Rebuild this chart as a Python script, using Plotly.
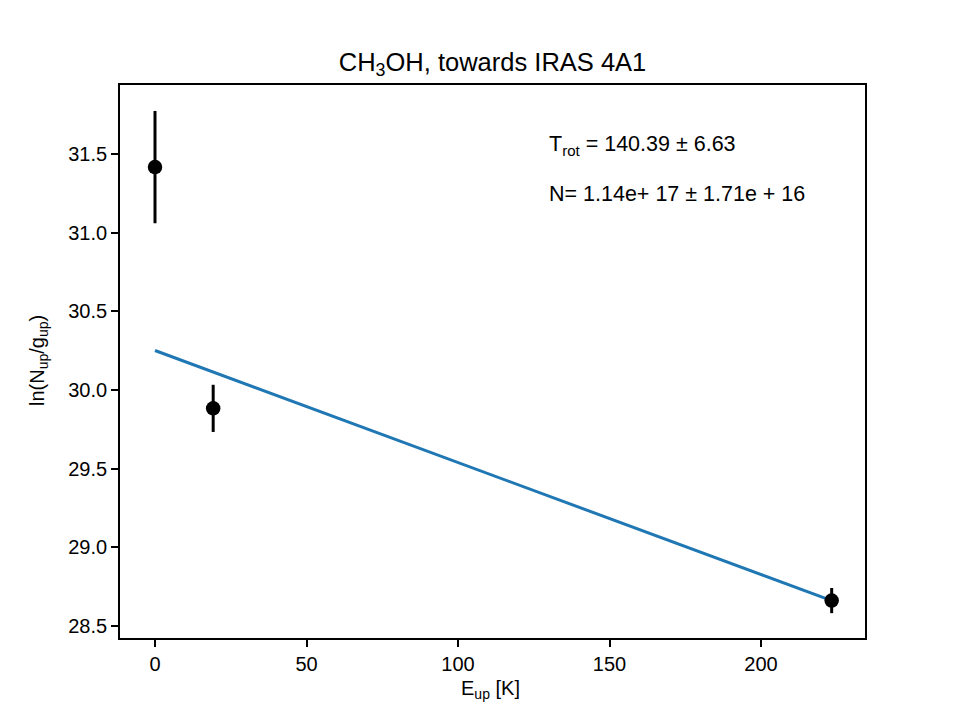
import plotly.graph_objects as go

# Data
e_up = [0.0, 19.2, 223.3]
ln_n = [31.418, 29.884, 28.662]
ln_err = [0.357, 0.15, 0.08]
fit_x = [0.0, 223.3]
t_rot = 140.39
fit_intercept = 30.252
fit_y = [fit_intercept - x / t_rot for x in fit_x]

font = "Liberation Sans, Arial, sans-serif"
W, H = 961, 719
L, R, T, B = 120, 865, 85, 638

fig = go.Figure()
fig.add_trace(go.Scatter(
    x=fit_x, y=fit_y, mode="lines",
    line=dict(color="#1f77b4", width=3), showlegend=False))
fig.add_trace(go.Scatter(
    x=e_up, y=ln_n, mode="markers",
    marker=dict(color="black", size=14.5),
    error_y=dict(type="data", array=ln_err, color="black", thickness=3, width=0),
    showlegend=False))

axis_common = dict(showgrid=False, zeroline=False, showline=True, linecolor="black",
                   linewidth=1.6, mirror=True, ticks="outside", ticklen=7, tickwidth=1.6,
                   tickcolor="black", tickfont=dict(size=20))

fig.update_layout(
    width=W, height=H,
    margin=dict(l=L, r=W - R, t=T, b=H - B),
    paper_bgcolor="white", plot_bgcolor="white",
    font=dict(family=font, size=20, color="black"),
    title=dict(text="CH<sub>3</sub>OH, towards IRAS 4A1", x=(L + R) / 2 / W, xanchor="center",
               y=1 - 62 / H, yanchor="middle", font=dict(size=25.5)),
    xaxis=dict(range=[-11.55, 234.3], tickvals=[0, 50, 100, 150, 200], **axis_common),
    yaxis=dict(range=[28.424, 31.94], tickvals=[28.5, 29.0, 29.5, 30.0, 30.5, 31.0, 31.5],
               ticktext=["28.5", "29.0", "29.5", "30.0", "30.5", "31.0", "31.5"], **axis_common),
)

# axis titles
fig.add_annotation(xref="paper", yref="paper", x=(490 - L) / (R - L), y=(B - 689) / (B - T),
                   text="E<sub>up</sub> [K]", showarrow=False,
                   xanchor="center", yanchor="middle", font=dict(size=20))
fig.add_annotation(xref="paper", yref="paper", x=(38 - L) / (R - L), y=(B - 361) / (B - T),
                   text="ln(N<sub>up</sub>/g<sub>up</sub>)", showarrow=False, textangle=-90,
                   xanchor="center", yanchor="middle", font=dict(size=20))

fig.add_annotation(xref="paper", yref="paper", x=(547 - L) / (R - L), y=(B - 145) / (B - T),
                   text="T<sub>rot</sub> = 140.39 ± 6.63", showarrow=False,
                   xanchor="left", yanchor="middle", font=dict(size=21.5))
fig.add_annotation(xref="paper", yref="paper", x=(547 - L) / (R - L), y=(B - 194) / (B - T),
                   text="N= 1.14e+ 17 ± 1.71e + 16", showarrow=False,
                   xanchor="left", yanchor="middle", font=dict(size=21.5))

fig.write_html("out.html")
